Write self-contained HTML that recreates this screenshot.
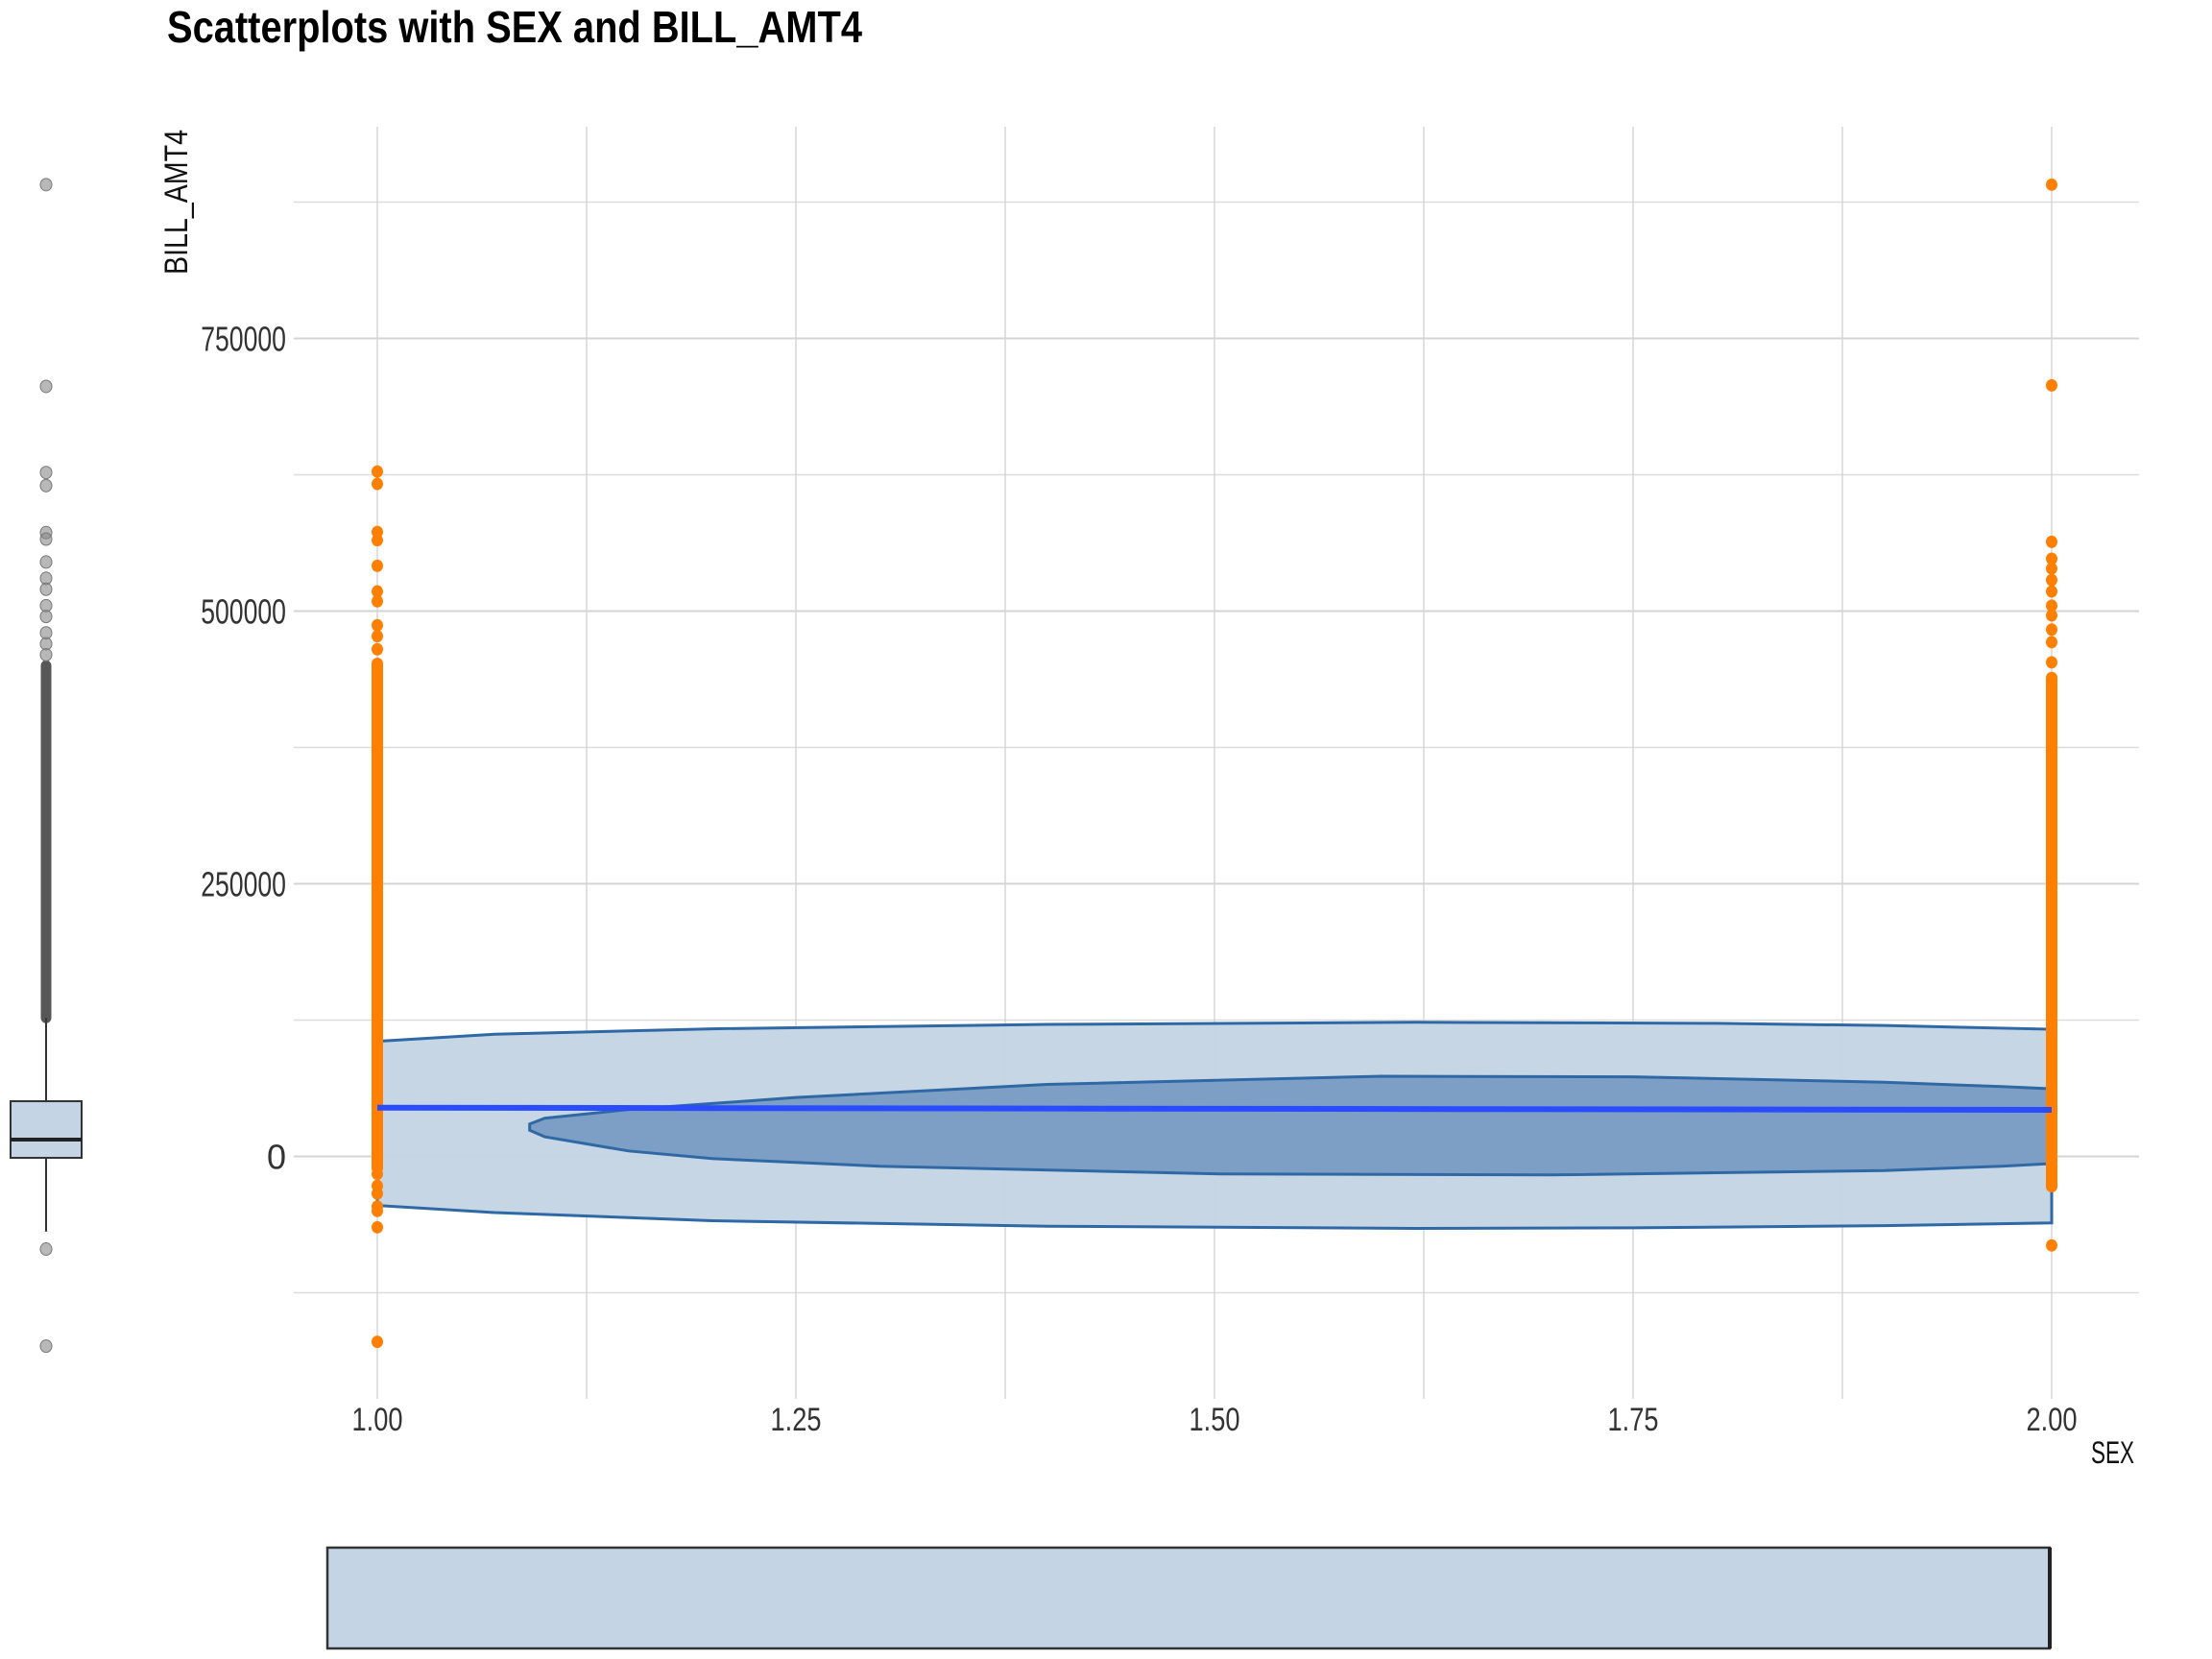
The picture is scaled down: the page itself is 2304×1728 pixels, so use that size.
<!DOCTYPE html>
<html><head><meta charset="utf-8"><style>
html,body{margin:0;padding:0;background:#fff}
svg{display:block}
text{font-family:"Liberation Sans",sans-serif}
</style></head><body>
<svg id="chart" width="2304" height="1728" viewBox="0 0 2304 1728" xmlns="http://www.w3.org/2000/svg">
<text x="174" y="44" font-size="46" font-weight="bold" textLength="724" lengthAdjust="spacingAndGlyphs" fill="#000">Scatterplots with SEX and BILL_AMT4</text>
<g id="grid"></g>
<g id="marks"></g>
<g id="axes"></g>
<text x="195" y="286" font-size="34" fill="#111" textLength="151" lengthAdjust="spacingAndGlyphs" transform="rotate(-90 195 286)">BILL_AMT4</text>
<text x="2223" y="1524" font-size="32" fill="#111" text-anchor="end" textLength="45" lengthAdjust="spacingAndGlyphs">SEX</text>
</svg>
<script>
const yTicks = [0, 250000, 500000, 750000];
const yGrid = [-125000, 0, 125000, 250000, 375000, 500000, 625000, 750000, 875000];
const xTicks = [1.00, 1.25, 1.50, 1.75, 2.00];
const xTickLabels = ["1.00", "1.25", "1.50", "1.75", "2.00"];
const xGrid = [1.00, 1.125, 1.25, 1.375, 1.50, 1.625, 1.75, 1.875, 2.00];
const sex1Dense = [-10700, 452000];
const sex2Dense = [-27700, 439000];
const sex1Points = [628000, 616600, 572500, 565000, 541500, 518000, 509000, 487000, 477000, 465000, -16000, -27000, -34000, -46000, -50000, -65000, -170000];
const sex2Points = [891000, 707000, 563500, 548000, 539000, 528500, 518000, 505000, 496000, 483000, 471500, 453000, -81600];
const outerTopX = [1, 1.07, 1.2, 1.4, 1.62, 1.8, 1.9, 2];
const outerTopY = [105500, 112000, 117000, 121000, 123000, 122000, 120000, 116600];
const outerBotX = [2, 1.9, 1.75, 1.62, 1.4, 1.2, 1.07, 1];
const outerBotY = [-61000, -63500, -65500, -66000, -64000, -59000, -51500, -45000];
const innerX = [1.091, 1.1, 1.15, 1.25, 1.4, 1.6, 1.75, 1.9, 1.97, 2, 2, 1.97, 1.9, 1.7, 1.5, 1.3, 1.2, 1.15, 1.1, 1.091];
const innerY = [29700, 35000, 43000, 54000, 66000, 73500, 73000, 68000, 64000, 62000, -6600, -9000, -13000, -17000, -16000, -9000, -2000, 5000, 18000, 24000];
const fitX = [1, 2];
const fitY = [44700, 42700];
const leftBoxStats = [-69000, -1300, 15400, 50600, 127000];
const leftDense = [127000, 450000];
const leftOutliers = [891000, 706000, 627000, 615000, 572000, 566000, 545000, 530000, 520000, 505000, 495000, 480000, 470000, 460000, -85000, -174000];
const bottomBoxStats = [1, 2, 2];

const NS = "http://www.w3.org/2000/svg";
const X = v => 393 + (v - 1) * 1744;
const Y = v => 1204.5 - v * 284 / 250000;
const BX = v => 341 + (v - 1) * 1794;
function mk(tag, attrs, parent){const e=document.createElementNS(NS,tag);for(const k in attrs)e.setAttribute(k,attrs[k]);parent.appendChild(e);return e;}
const grid=document.getElementById('grid'), marks=document.getElementById('marks'), axes=document.getElementById('axes');

yGrid.forEach(v=>{const major=yTicks.includes(v);
 const l=mk('line',{x1:306,x2:2228,y1:Y(v),y2:Y(v),stroke:major?'#d4d4d4':'#dcdcdc','stroke-width':major?2:1.6},grid);
 
 });
xGrid.forEach(v=>{const l=mk('line',{x1:X(v),x2:X(v),y1:132,y2:1457,stroke:'#d4d4d4','stroke-width':1.4},grid);
 
 });
yTicks.forEach(v=>{const t=mk('text',{x:298,y:Y(v)+13,'font-size':36,fill:'#333','text-anchor':'end'},axes);t.textContent=String(v);
 if(String(v).length>1){t.setAttribute('textLength',String(v).length*14.8);t.setAttribute('lengthAdjust','spacingAndGlyphs');}
 
 });
xTicks.forEach((v,i)=>{const t=mk('text',{x:X(v),y:1490,'font-size':34,fill:'#333','text-anchor':'middle',textLength:53,lengthAdjust:'spacingAndGlyphs'},axes);t.textContent=xTickLabels[i];
 
 });

let pts=outerTopX.map((x,i)=>X(x)+','+Y(outerTopY[i])).concat(outerBotX.map((x,i)=>X(x)+','+Y(outerBotY[i]))).join(' ');
let p=mk('polygon',{points:pts,fill:'#c4d4e4','fill-opacity':0.95,stroke:'#2f69a5','stroke-width':3},marks);


pts=innerX.map((x,i)=>X(x)+','+Y(innerY[i])).join(' ');
p=mk('polygon',{points:pts,fill:'#7e9fc5',stroke:'#2f69a5','stroke-width':3},marks);



[[1,sex1Dense,sex1Points],[2,sex2Dense,sex2Points]].forEach(([sx,dense,ptsArr])=>{
 const d=mk('line',{x1:X(sx),x2:X(sx),y1:Y(dense[0]),y2:Y(dense[1]),stroke:'#ff8000','stroke-width':12,'stroke-linecap':'round'},marks);
 
 
 ptsArr.forEach(v=>{const c=mk('ellipse',{cx:X(sx),cy:Y(v),rx:6,ry:6.5,fill:'#ff8000'},marks);
  
  });
});
const fit=mk('line',{x1:X(fitX[0]),x2:X(fitX[1]),y1:Y(fitY[0]),y2:Y(fitY[1]),stroke:'#2a4bff','stroke-width':6},marks);



const lx=48;
let e=mk('line',{x1:lx,x2:lx,y1:Y(leftBoxStats[0]),y2:Y(leftBoxStats[4]),stroke:'#333','stroke-width':2},marks);


e=mk('rect',{x:11,y:Y(leftBoxStats[3]),width:74,height:Y(leftBoxStats[1])-Y(leftBoxStats[3]),fill:'#c4d4e4',stroke:'#333','stroke-width':2},marks);


e=mk('line',{x1:11,x2:85,y1:Y(leftBoxStats[2]),y2:Y(leftBoxStats[2]),stroke:'#222','stroke-width':4},marks);


e=mk('line',{x1:lx,x2:lx,y1:Y(leftDense[0]),y2:Y(leftDense[1]),stroke:'#3a3a3a','stroke-width':11,'stroke-linecap':'round','stroke-opacity':0.85},marks);


leftOutliers.forEach(v=>{const c=mk('ellipse',{cx:lx,cy:Y(v),rx:6,ry:6.5,fill:'#888','fill-opacity':0.6,stroke:'#777','stroke-width':1},marks);
 
 });

e=mk('rect',{x:BX(bottomBoxStats[0]),y:1612,width:BX(bottomBoxStats[2])-BX(bottomBoxStats[0]),height:105,fill:'#c4d4e4',stroke:'#333','stroke-width':2.5},marks);


e=mk('line',{x1:BX(bottomBoxStats[1]),x2:BX(bottomBoxStats[1]),y1:1612,y2:1717,stroke:'#222','stroke-width':4},marks);


</script>
</body></html>
